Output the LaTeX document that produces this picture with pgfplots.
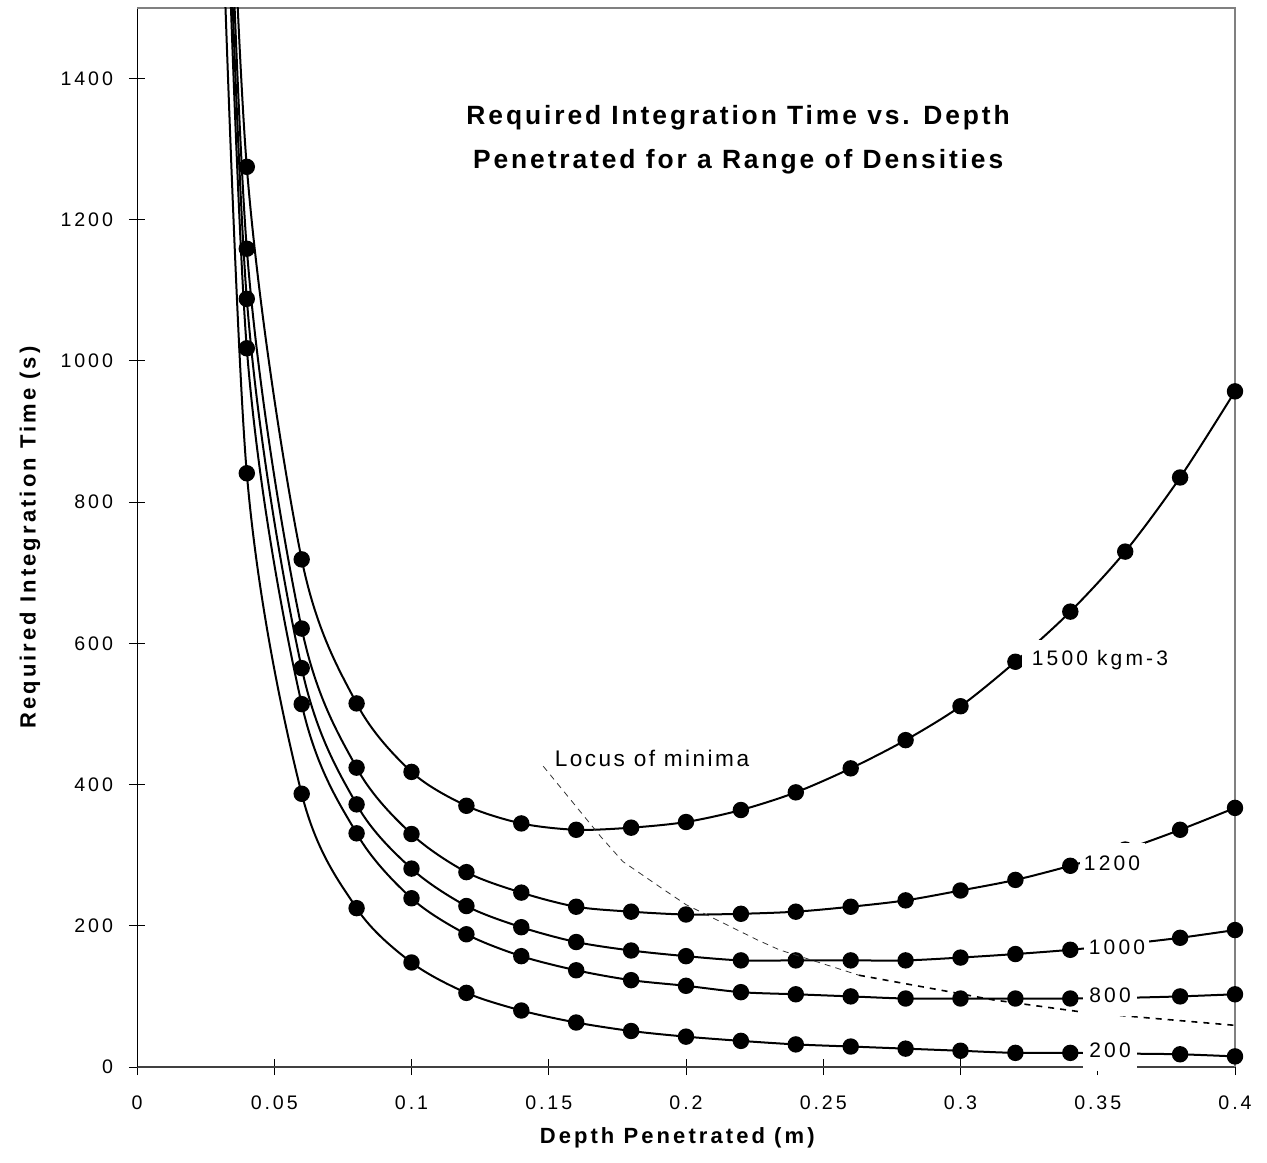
\documentclass[border=0pt]{standalone}
\usepackage{fontspec}
\setmainfont{Liberation Sans}
\usepackage{pgfplots}
\usepackage{pgfplotstable}
\pgfplotsset{compat=1.18}
\newfontfamily\tickfont[LetterSpace=15]{Liberation Sans}
\newfontfamily\titlefont[LetterSpace=11]{Liberation Sans}
\newfontfamily\labfont[LetterSpace=14]{Liberation Sans}
\newfontfamily\locfont[LetterSpace=11]{Liberation Sans}

\pgfplotstableread{
x y
0.03 2180
0.04 1275
0.06 719
0.08 515
0.10 418
0.12 370
0.14 345
0.16 336
0.18 339
0.20 347
0.22 364
0.24 389
0.26 423
0.28 463
0.30 511
0.32 574
0.34 645
0.36 730
0.38 835
0.40 957
}\dA
\pgfplotstableread{
x y
0.03 2120
0.04 1159
0.06 621
0.08 424
0.10 330
0.12 276
0.14 247
0.16 227
0.18 220
0.20 216
0.22 217
0.24 220
0.26 227
0.28 236
0.30 250
0.32 265
0.34 285
0.36 308
0.38 336
0.40 367
}\dB
\pgfplotstableread{
x y
0.03 2060
0.04 1088
0.06 565
0.08 372
0.10 281
0.12 228
0.14 198
0.16 177
0.18 165
0.20 157
0.22 151
0.24 151
0.26 151
0.28 151
0.30 155
0.32 160
0.34 166
0.36 174
0.38 183
0.40 194
}\dC
\pgfplotstableread{
x y
0.03 2000
0.04 1018
0.06 514
0.08 331
0.10 239
0.12 188
0.14 157
0.16 137
0.18 123
0.20 115
0.22 106
0.24 103
0.26 100
0.28 97
0.30 97
0.32 97
0.34 97
0.36 98
0.38 100
0.40 103
}\dD
\pgfplotstableread{
x y
0.03 1760
0.04 841
0.06 387
0.08 225
0.10 148
0.12 105
0.14 80
0.16 63
0.18 51
0.20 43
0.22 37
0.24 32
0.26 29
0.28 26
0.30 23
0.32 20
0.34 20
0.36 19
0.38 18
0.40 15
}\dE

\begin{document}
\begin{tikzpicture}
\path[use as bounding box] (-68.5bp,-48bp) rectangle (565bp,533.5bp);
\begin{axis}[
  scale only axis,
  width=549bp, height=529.5bp,
  xmin=0, xmax=0.4, ymin=0, ymax=1500,
  clip mode=individual,
  axis x line*=bottom, axis y line*=left,
  x axis line style={draw=black!75, line width=0.8bp},
  y axis line style={draw=black, line width=0.5bp},
  xtick={0,0.05,0.1,0.15,0.2,0.25,0.3,0.35,0.4},
  xticklabels={0,0.05,0.1,0.15,0.2,0.25,0.3,0.35,0.4},
  ytick={0,200,400,600,800,1000,1200,1400},
  yticklabels={0,200,400,600,800,1000,1200,1400},
  tick align=center,
  major tick length=8bp,
  tick style={black, line width=0.5bp},
  every tick label/.append style={font=\tickfont\fontsize{9.8bp}{11bp}\selectfont},
  xticklabel style={yshift=-7bp},
  yticklabel style={xshift=-4.5bp},
  pl/.style={black, line width=1bp, smooth, mark=*, mark size=3.6bp, mark phase=1, mark repeat=1, mark options={solid, fill=black}},
]
\draw[gray, line width=0.8bp] (rel axis cs:0,1) -- (rel axis cs:1,1) -- (rel axis cs:1,0);

\addplot[pl] table {\dA};
\addplot[pl] table {\dB};
\addplot[pl] table {\dC};
\addplot[pl] table {\dD};
\addplot[pl] table {\dE};

\addplot[black!80, line width=0.4bp, mark=none, dash pattern=on 3bp off 2.5bp] coordinates {
(0.148,426) (0.169,326) (0.177,291) (0.192,251) (0.200,230) (0.226,180) (0.234,166)
(0.263,130)};
\addplot[black, line width=0.8bp, mark=none, dash pattern=on 3bp off 3bp] coordinates {
(0.263,130) (0.294,108) (0.312,95) (0.344,78) (0.364,71) (0.403,58)};

\tikzset{lab/.style={fill=white, inner sep=0pt, minimum height=20bp, font=\tickfont\fontsize{10.5bp}{12bp}\selectfont}}
\node[lab, minimum width=78bp] at (axis cs:0.3508,577) {1500 kgm-3};
\node[lab, minimum width=32.5bp] at (axis cs:0.3552,289) {1200};
\node[lab, minimum width=32.5bp] at (axis cs:0.3570,170) {1000};
\node[lab, minimum width=27bp] at (axis cs:0.3545,101) {800};
\node[lab, minimum width=27bp] at (axis cs:0.3545,23) {200};

\node[font=\locfont\fontsize{11.3bp}{13bp}\selectfont] at (axis cs:0.1876,437) {Locus of minima};

\node[align=center, font=\titlefont\bfseries\fontsize{13.2bp}{22bp}\selectfont] at (axis cs:0.219,1313) {Required Integration Time vs. Depth\\Penetrated for a Range of Densities};

\node[font=\labfont\bfseries\fontsize{11bp}{13bp}\selectfont] at (rel axis cs:0.492,-0.067) {Depth Penetrated (m)};
\node[rotate=90, font=\labfont\bfseries\fontsize{11bp}{13bp}\selectfont] at (rel axis cs:-0.0975,0.50) {Required Integration Time (s)};
\end{axis}
\end{tikzpicture}
\end{document}
